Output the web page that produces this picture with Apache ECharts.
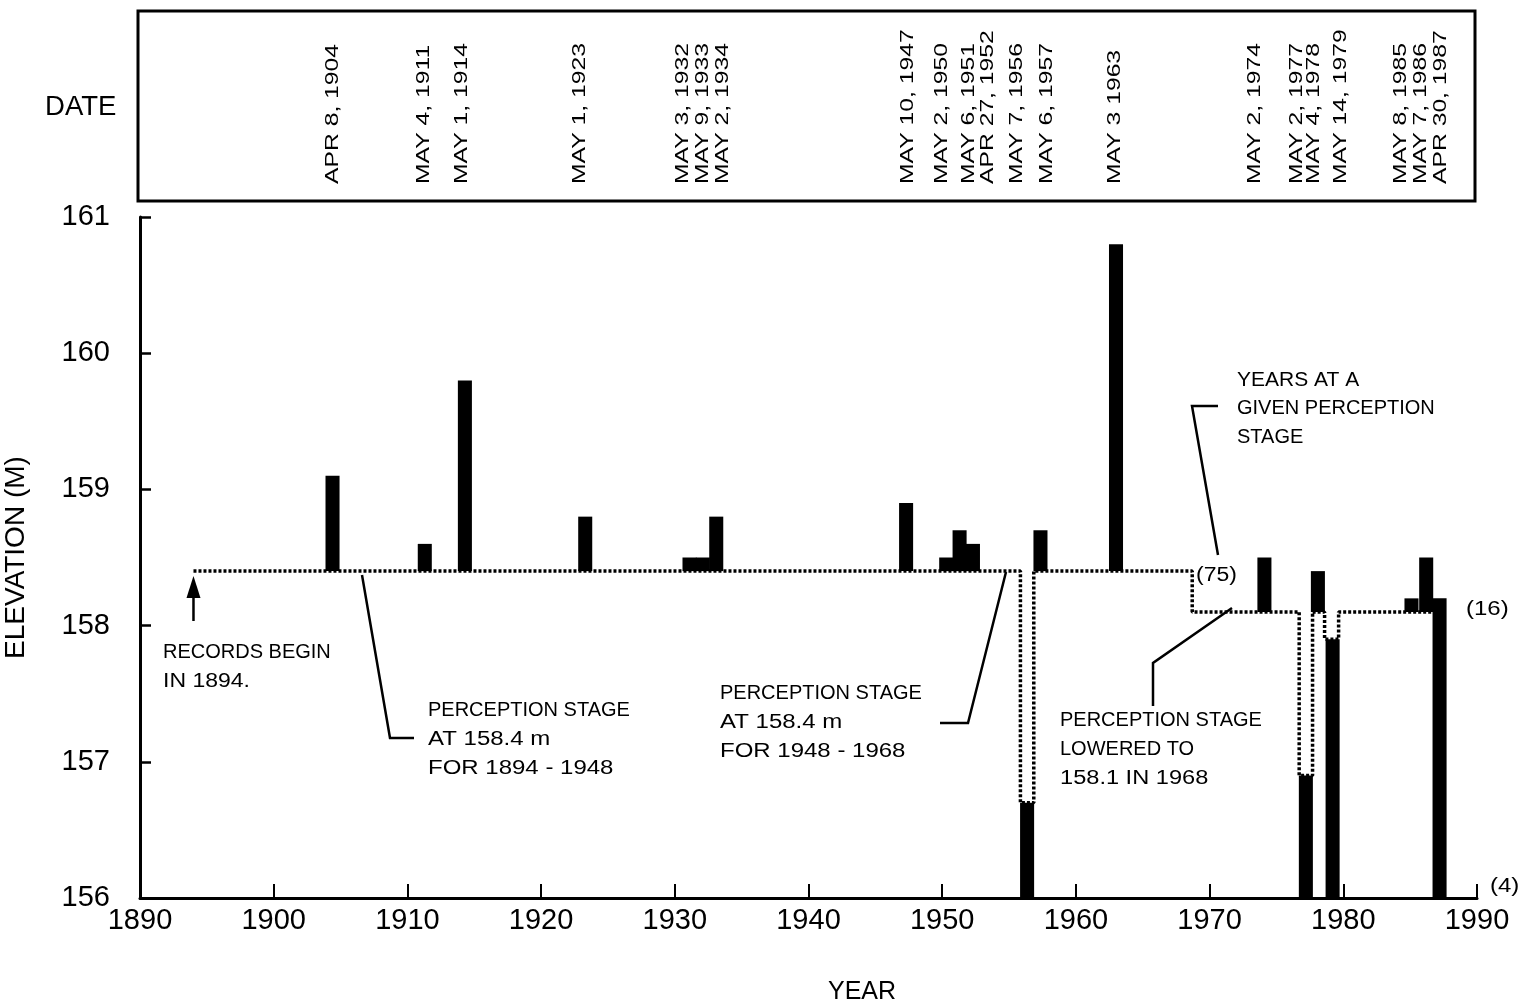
<!DOCTYPE html>
<html><head><meta charset="utf-8">
<script src="https://cdn.jsdelivr.net/npm/echarts@6/dist/echarts.min.js"></script>
<style>html,body{margin:0;padding:0;background:#fff}#chart{width:1535px;height:1008px}</style>
</head><body><div id="chart"></div>
<script>
// ---- data ----
const dateLabels = ['APR 8, 1904','MAY 4, 1911','MAY 1, 1914','MAY 1, 1923','MAY 3, 1932','MAY 9, 1933','MAY 2, 1934',
  'MAY 10, 1947','MAY 2, 1950','MAY 6, 1951','APR 27, 1952','MAY 7, 1956','MAY 6, 1957','MAY 3 1963',
  'MAY 2, 1974','MAY 2, 1977','MAY 4, 1978','MAY 14, 1979','MAY 8, 1985','MAY 7, 1986','APR 30, 1987'];
// where each date column sits along the year axis
const dateLabelYear = [1904.4,1911.2,1914.1,1922.9,1930.6,1932.1,1933.6,1947.4,1950.0,1952.0,1953.4,1955.6,1957.8,1962.9,
  1973.4,1976.5,1977.8,1979.8,1984.3,1985.8,1987.3];
const barYear = [1904,1911,1914,1923,1932,1933,1934,1947,1950,1951,1952,1956,1957,1963,1974,1977,1978,1979,1985,1986,1987];
const barX    = [1904.4,1911.3,1914.3,1923.3,1931.1,1932.1,1933.1,1947.3,1950.3,1951.3,1952.3,1956.35,1957.35,1963.0,
  1974.1,1977.2,1978.1,1979.2,1985.1,1986.2,1987.2];
const barBase = [158.4,158.4,158.4,158.4,158.4,158.4,158.4,158.4,158.4,158.4,158.4,156,158.4,158.4,
  158.1,156,158.1,156,158.1,158.1,156];
const barTop  = [159.1,158.6,159.8,158.8,158.5,158.5,158.8,158.9,158.5,158.7,158.6,156.7,158.7,160.8,
  158.5,156.9,158.4,157.9,158.2,158.5,158.2];
// perception stage (dotted) path
const stageX = [1894,1955.85,1955.85,1956.85,1956.85,1968.7,1968.7,1976.7,1976.7,1977.7,1977.7,1978.6,1978.6,1979.65,1979.65,1986.7];
const stageY = [158.4,158.4,156.7,156.7,158.4,158.4,158.1,158.1,156.9,156.9,158.1,158.1,157.9,157.9,158.1,158.1];
const stageCounts = ['(75)','(16)','(4)'];
const recordsBegin = 1894;

const BAR_W = 1.05;
const SANS = 'Liberation Sans';

const chart = echarts.init(document.getElementById('chart'), null, {renderer:'canvas'});
const option = {
  backgroundColor:'#fff',
  animation:false,
  grid:{left:140,right:58,top:217,bottom:110,containLabel:false,outerBoundsMode:'none'},
  xAxis:{type:'value',min:1890,max:1990,interval:10,
    axisLine:{show:true,lineStyle:{color:'#000',width:3}},
    axisTick:{show:true,inside:true,length:14,lineStyle:{color:'#000',width:2}},
    axisLabel:{color:'#000',fontSize:29,fontFamily:SANS,margin:8,formatter:v=>String(v)},
    splitLine:{show:false}},
  yAxis:{type:'value',min:156,max:161,interval:1,
    name:'ELEVATION (M)',nameLocation:'middle',nameGap:110,
    nameTextStyle:{color:'#000',fontSize:28,fontFamily:SANS},
    axisLine:{show:true,lineStyle:{color:'#000',width:3}},
    axisTick:{show:true,inside:true,length:11,lineStyle:{color:'#000',width:2.5}},
    axisLabel:{color:'#000',fontSize:29,fontFamily:SANS,margin:30,formatter:v=>String(v)},
    splitLine:{show:false}},
  series:[
    {type:'line',data:stageX.map((x,i)=>[x,stageY[i]]),symbol:'none',z:2,
      lineStyle:{color:'#000',width:3.5,type:[3,2],cap:'butt'},silent:true},
    {type:'custom',z:3,silent:true,
      data:barX.map((x,i)=>[x,barBase[i],barTop[i],barYear[i]]),
      encode:{x:0,y:[1,2]},
      renderItem:function(params,api){
        const x=api.value(0),lo=api.value(1),hi=api.value(2);
        const p0=api.coord([x-BAR_W/2,hi]);
        const p1=api.coord([x+BAR_W/2,lo]);
        return {type:'rect',shape:{x:p0[0],y:p0[1],width:p1[0]-p0[0],height:p1[1]-p0[1]},style:{fill:'#000'}};
      }}
  ]
};
chart.setOption(option);

function txt(text,x,y,size,sx,extra){
  return Object.assign({type:'text',x:x,y:y,z:10,silent:true,scaleX:sx||1,
    style:{text:text,fontSize:size,fontFamily:SANS,fill:'#000',
      align:'left',verticalAlign:'middle',textAlign:'left',textVerticalAlign:'middle'}},extra||{});
}
function line(points,w){
  return {type:'polyline',z:10,silent:true,shape:{points:points},style:{stroke:'#000',lineWidth:w||2.5,fill:null}};
}
const g=[];
// date box
g.push({type:'rect',z:10,silent:true,shape:{x:138,y:11,width:1337,height:190},style:{fill:null,stroke:'#000',lineWidth:3}});
g.push(txt('DATE',45,108,27,1.02));
dateLabels.forEach((s,i)=>{
  const px=chart.convertToPixel({xAxisIndex:0},dateLabelYear[i]);
  g.push(txt(s,px,184,19,1.3,{rotation:Math.PI/2}));
});
// arrow for records begin
const ax=chart.convertToPixel({xAxisIndex:0},recordsBegin);
g.push(line([[ax,621],[ax,596]],2.5));
g.push({type:'polygon',z:10,silent:true,shape:{points:[[ax-7,598],[ax+7,598],[ax,576]]},style:{fill:'#000'}});
g.push(txt('RECORDS BEGIN',163,652,20,1));
g.push(txt('IN 1894.',163,681,20,1.15));
// annotation 1
g.push(line([[362,575],[390,738],[414,738]]));
g.push(txt('PERCEPTION STAGE',428,710,20,1));
g.push(txt('AT 158.4 m',428,739,20,1.2));
g.push(txt('FOR 1894 - 1948',428,768,20,1.2));
// annotation 2
g.push(line([[1006,572],[968,723],[940,723]]));
g.push(txt('PERCEPTION STAGE',720,693,20,1));
g.push(txt('AT 158.4 m',720,722,20,1.2));
g.push(txt('FOR 1948 - 1968',720,751,20,1.2));
// annotation 3
g.push(line([[1153,706],[1153,663],[1232,608]]));
g.push(txt('PERCEPTION STAGE',1060,720,20,1));
g.push(txt('LOWERED TO',1060,749,20,1));
g.push(txt('158.1 IN 1968',1060,778,20,1.18));
// annotation 4
g.push(line([[1218,406],[1192,406],[1218,555]]));
g.push(txt('YEARS AT A',1237,380,20,1.05));
g.push(txt('GIVEN PERCEPTION',1237,408,20,1));
g.push(txt('STAGE',1237,437,20,1));
// counts
g.push(txt(stageCounts[0],1196,575,20,1.15));
g.push(txt(stageCounts[1],1466,609,20,1.2));
g.push(txt(stageCounts[2],1490,886,20,1.2));
// x axis title
g.push({type:'text',x:862,y:992,z:10,silent:true,
  style:{text:'YEAR',fontSize:25,fontFamily:SANS,fill:'#000',align:'center',verticalAlign:'middle',textAlign:'center',textVerticalAlign:'middle'}});
chart.setOption({graphic:{elements:g}});
</script></body></html>
